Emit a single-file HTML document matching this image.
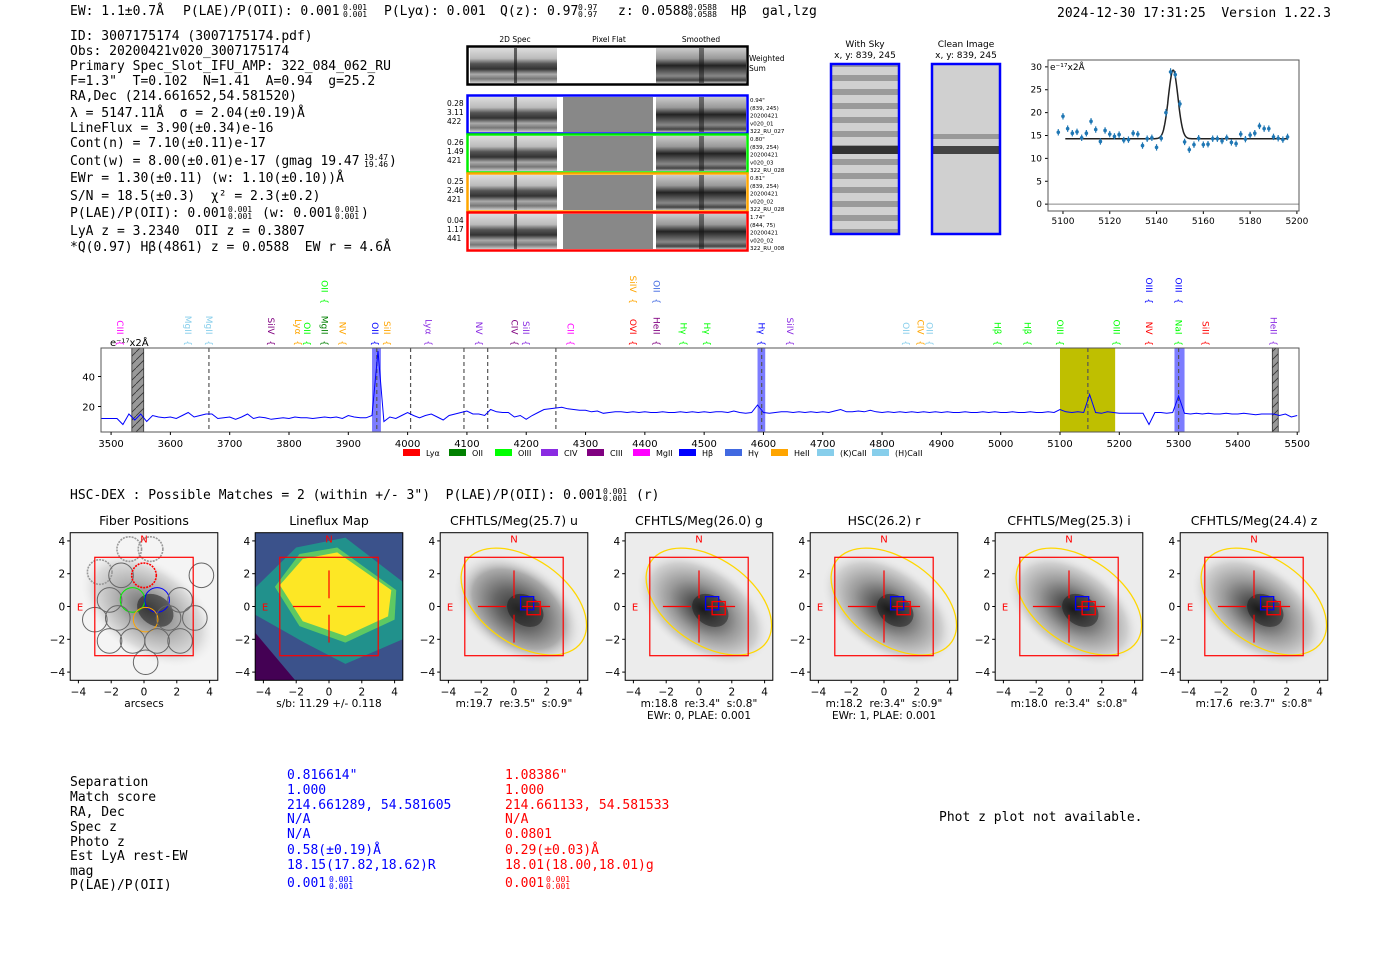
<!DOCTYPE html>
<html><head><meta charset="utf-8"><style>
html,body{margin:0;padding:0;background:#fff;}
svg{display:block;}
.m{font-family:"DejaVu Sans Mono","Liberation Mono",monospace;font-size:13px;fill:#000;white-space:pre;}
.m[font-size="8"]{font-size:8px;}
.s{font-family:"DejaVu Sans","Liberation Sans",sans-serif;white-space:pre;}
</style></head><body>
<svg id="root" width="1400" height="953" viewBox="0 0 1400 953" xmlns="http://www.w3.org/2000/svg" xml:space="preserve">
<defs>
<linearGradient id="g2d" x1="0" y1="0" x2="0" y2="1">
<stop offset="0" stop-color="#ddd"/><stop offset="0.3" stop-color="#bbb"/><stop offset="0.45" stop-color="#555"/><stop offset="0.6" stop-color="#333"/><stop offset="0.75" stop-color="#aaa"/><stop offset="0.88" stop-color="#777"/><stop offset="1" stop-color="#ccc"/>
</linearGradient>
<linearGradient id="gsm" x1="0" y1="0" x2="0" y2="1">
<stop offset="0" stop-color="#ccc"/><stop offset="0.3" stop-color="#999"/><stop offset="0.5" stop-color="#222"/><stop offset="0.65" stop-color="#555"/><stop offset="0.8" stop-color="#888"/><stop offset="0.92" stop-color="#444"/><stop offset="1" stop-color="#bbb"/>
</linearGradient>
<pattern id="sky" width="10" height="14" patternUnits="userSpaceOnUse">
<rect width="10" height="14" fill="#d0d0d0"/><rect y="5" width="10" height="6" fill="#9a9a9a"/>
</pattern>
<pattern id="hatch" width="8" height="8" patternUnits="userSpaceOnUse">
<rect width="8" height="8" fill="#999"/><path d="M0 8 L8 0" stroke="#333" stroke-width="0.8"/>
</pattern>
<radialGradient id="gal" cx="0.5" cy="0.5" r="0.5">
<stop offset="0" stop-color="#222"/><stop offset="0.2" stop-color="#555"/><stop offset="0.5" stop-color="#999"/><stop offset="0.8" stop-color="#cfcfcf"/><stop offset="1" stop-color="#ececec" stop-opacity="0"/>
</radialGradient>
<radialGradient id="galu" cx="0.5" cy="0.5" r="0.5">
<stop offset="0" stop-color="#333"/><stop offset="0.35" stop-color="#666"/><stop offset="0.7" stop-color="#aaa"/><stop offset="1" stop-color="#eee" stop-opacity="0"/>
</radialGradient>
</defs>

<g>
<text class="m" x="70" y="15">EW: 1.1±0.7Å</text>
<text class="m" x="183" y="15">P(LAE)/P(OII): 0.001</text>
<text class="m" x="343" y="10" font-size="8">0.001</text><text class="m" x="343" y="17" font-size="8">0.001</text>
<text class="m" x="384" y="15">P(Lyα): 0.001</text>
<text class="m" x="500" y="15">Q(z): 0.97</text>
<text class="m" x="578" y="10" font-size="8">0.97</text><text class="m" x="578" y="17" font-size="8">0.97</text>
<text class="m" x="618" y="15">z: 0.0588</text>
<text class="m" x="688" y="10" font-size="8">0.0588</text><text class="m" x="688" y="17" font-size="8">0.0588</text>
<text class="m" x="731" y="15">Hβ</text>
<text class="m" x="762" y="15">gal,lzg</text>
<text class="m" x="1057" y="17">2024-12-30 17:31:25  Version 1.22.3</text>
</g>

<g>
<text class="m" x="70" y="40">ID: 3007175174 (3007175174.pdf)</text>
<text class="m" x="70" y="55">Obs: 20200421v020_3007175174</text>
<text class="m" x="70" y="70">Primary Spec_Slot_IFU_AMP: 322_084_062_RU</text>
<text class="m" x="70" y="85">F=1.3"  T=0.102  N=1.41  A=0.94  g=25.2</text>
<text class="m" x="70" y="100">RA,Dec (214.661652,54.581520)</text>
<text class="m" x="70" y="117">λ = 5147.11Å  σ = 2.04(±0.19)Å</text>
<text class="m" x="70" y="132">LineFlux = 3.90(±0.34)e-16</text>
<text class="m" x="70" y="147">Cont(n) = 7.10(±0.11)e-17</text>
<text class="m" x="70" y="165">Cont(w) = 8.00(±0.01)e-17 (gmag 19.47</text>
<text class="m" x="364" y="160" font-size="8">19.47</text><text class="m" x="364" y="167" font-size="8">19.46</text><text class="m" x="389" y="165">)</text>
<text class="m" x="70" y="182">EWr = 1.30(±0.11) (w: 1.10(±0.10))Å</text>
<text class="m" x="70" y="200">S/N = 18.5(±0.3)  χ² = 2.3(±0.2)</text>
<text class="m" x="70" y="217">P(LAE)/P(OII): 0.001</text>
<text class="m" x="228" y="212" font-size="8">0.001</text><text class="m" x="228" y="219" font-size="8">0.001</text>
<text class="m" x="262" y="217">(w: 0.001</text>
<text class="m" x="335" y="212" font-size="8">0.001</text><text class="m" x="335" y="219" font-size="8">0.001</text><text class="m" x="361" y="217">)</text>
<text class="m" x="70" y="235">LyA z = 3.2340  OII z = 0.3807</text>
<text class="m" x="70" y="251">*Q(0.97) Hβ(4861) z = 0.0588  EW r = 4.6Å</text>
</g>

<g id="cutouts"></g>
<g id="fitplot"></g>
<g id="spec"></g>

<text class="m" x="70" y="499">HSC-DEX : Possible Matches = 2 (within +/- 3")  P(LAE)/P(OII): 0.001</text>
<text class="m" x="603" y="494" font-size="8">0.001</text><text class="m" x="603" y="501" font-size="8">0.001</text>
<text class="m" x="636" y="499">(r)</text>

<g id="panels"></g>

<g>
<text class="m" x="70" y="786">Separation</text>
<text class="m" x="70" y="801">Match score</text>
<text class="m" x="70" y="816">RA, Dec</text>
<text class="m" x="70" y="831">Spec z</text>
<text class="m" x="70" y="846">Photo z</text>
<text class="m" x="70" y="860">Est LyA rest-EW</text>
<text class="m" x="70" y="875">mag</text>
<text class="m" x="70" y="889">P(LAE)/P(OII)</text>
<text class="m" x="287" y="779" style="fill:#00f">0.816614"</text>
<text class="m" x="287" y="794" style="fill:#00f">1.000</text>
<text class="m" x="287" y="809" style="fill:#00f">214.661289, 54.581605</text>
<text class="m" x="287" y="823" style="fill:#00f">N/A</text>
<text class="m" x="287" y="838" style="fill:#00f">N/A</text>
<text class="m" x="287" y="854" style="fill:#00f">0.58(±0.19)Å</text>
<text class="m" x="287" y="869" style="fill:#00f">18.15(17.82,18.62)R</text>
<text class="m" x="287" y="887" style="fill:#00f">0.001</text>
<text class="m" x="329" y="882" font-size="8" style="fill:#00f">0.001</text><text class="m" x="329" y="889" font-size="8" style="fill:#00f">0.001</text>
<text class="m" x="505" y="779" style="fill:#f00">1.08386"</text>
<text class="m" x="505" y="794" style="fill:#f00">1.000</text>
<text class="m" x="505" y="809" style="fill:#f00">214.661133, 54.581533</text>
<text class="m" x="505" y="823" style="fill:#f00">N/A</text>
<text class="m" x="505" y="838" style="fill:#f00">0.0801</text>
<text class="m" x="505" y="854" style="fill:#f00">0.29(±0.03)Å</text>
<text class="m" x="505" y="869" style="fill:#f00">18.01(18.00,18.01)g</text>
<text class="m" x="505" y="887" style="fill:#f00">0.001</text>
<text class="m" x="546" y="882" font-size="8" style="fill:#f00">0.001</text><text class="m" x="546" y="889" font-size="8" style="fill:#f00">0.001</text>
<text class="m" x="939" y="821">Phot z plot not available.</text>
</g>
</svg>

<script>
// ===== line-fit data =====
const fitWave = [5098,5100,5102,5104,5106,5108,5110,5112,5114,5116,5118,5120,5122,5124,5126,5128,5130,5132,5134,5136,5138,5140,5142,5144,5146,5148,5150,5152,5154,5156,5158,5160,5162,5164,5166,5168,5170,5172,5174,5176,5178,5180,5182,5184,5186,5188,5190,5192,5194,5196];
const fitFlux = [15.7,19.2,16.5,15.5,15.8,14.5,15.5,18.1,16.3,13.7,16.1,15.3,14.8,15.2,14.0,14.1,15.5,15.3,12.8,14.3,14.5,12.4,14.4,20.0,28.9,28.3,21.9,13.6,11.9,13.0,14.4,13.0,13.1,14.3,14.3,13.8,14.5,13.5,13.2,15.3,14.2,15.1,15.5,17.1,16.5,16.5,14.7,14.4,14.1,14.7];
const fitErr = [0.7,0.7,0.7,0.7,0.7,0.7,0.7,0.7,0.7,0.7,0.7,0.7,0.7,0.7,0.7,0.7,0.7,0.7,0.7,0.7,0.7,0.7,0.7,0.8,0.8,0.8,0.8,0.7,0.7,0.7,0.7,0.7,0.7,0.7,0.7,0.7,0.7,0.7,0.7,0.7,0.7,0.7,0.7,0.7,0.7,0.7,0.7,0.7,0.7,0.7];
const fitModel = {cont:14.3, amp:15.0, mu:5147.11, sigma:2.04, x0:5101, x1:5196};
const fitXTicks = [5100,5120,5140,5160,5180,5200];
const fitYTicks = [0,5,10,15,20,25,30];

// ===== full spectrum data =====
const specStart = 3480, specStep = 10;
const specFlux = [
12,12,12,12,8,15,11,15,10,14,
13,12.5,13,12,14,16,13,14,15,15,
12,12.5,13,11.5,13,15,12,13,12.5,11.5,
12,12.5,12,13,12.5,12.5,12,12.5,13,12.5,
13,12,14,13,12.5,12.5,14,57,10,13,
12,14,16,14,12.5,14,15,13,11,14,
15,16,17,15,15,14,18,16.5,16,16,
13,14,11.5,14,16,18,18.5,19,19.5,18.5,
18,17.5,17.5,16.5,17,15.5,16,16.5,16.5,16,
16.5,16,16.5,16,16,16.5,16,16,16.5,16,
16.5,16,16.5,16,16.5,16.5,16,17,16,15.5,
16,21,16,15.5,16,16.5,16.5,16,16.5,16,
16.5,16,16.5,16,17,18,16.5,16.5,17,16.5,
17.5,16.5,16,16.5,16,16.5,16,16.5,16,16.5,
16,16.5,16,16.5,16,16,16.5,16,16,16.5,
16,16.5,16,16,16.5,16,16,16.5,16,16,
16.5,16,18,16.5,16,16.5,16,28,16,15.5,
16.5,16,15.5,15.5,15.5,15.5,15.5,8,16,16,
15.5,16,27,15.5,15,15.5,15,15.5,15,15,
15.5,15,15,15.5,15,14.5,15,15,15,14,
15,13,14];
const specXTicks = [3500,3600,3700,3800,3900,4000,4100,4200,4300,4400,4500,4600,4700,4800,4900,5000,5100,5200,5300,5400,5500];
const specYTicks = [20,40];
const bandWave = [[3940,3955,'#4444ff'],[4590,4603,'#4444ff'],[5293,5310,'#4444ff'],[5100,5193,'#bfbf00']];
const hatchWave = [[3535,3555],[5458,5468]];
const dashWave = [3665,3948,4005,4095,4135,4250,4597,5147,5300];
const lineWave = [3515,3630,3665,3770,3815,3830,3860,3890,3945,3965,4035,4120,4180,4200,4275,4380,4420,4465,4505,4597,4645,4840,4865,4880,4995,5045,5100,5195,5250,5300,5345,5460,3860,4380,4420,5250,5300];
const lineName = ['CIII','MgII','MgII','SiIV','Lyα','OII','MgII','NV','OII','SiII','Lyα','NV','CIV','SiII','CII','OVI','HeII','Hγ','Hγ','Hγ','SiIV','OII','CIV','OII','Hβ','Hβ','OIII','OIII','NV','NaI','SiII','HeII','OII','SiIV','OII','OIII','OIII'];
const lineColor = ['#ff00ff','#87ceeb','#87ceeb','#800080','#ffa500','#00ff00','#008000','#ffa500','#0000ff','#ffa500','#8a2be2','#8a2be2','#800080','#8a2be2','#ff00ff','#ff0000','#800080','#00ff00','#00ff00','#0000ff','#8a2be2','#87ceeb','#ffa500','#87ceeb','#00ff00','#00ff00','#00ff00','#00ff00','#ff0000','#00ff00','#ff0000','#8a2be2','#00ff00','#ffa500','#4169e1','#0000ff','#0000ff'];
const lineRow = [0,0,0,0,0,0,0,0,0,0,0,0,0,0,0,0,0,0,0,0,0,0,0,0,0,0,0,0,0,0,0,0,1,1,1,1,1];
const legendNames = ['Lyα','OII','OIII','CIV','CIII','MgII','Hβ','Hγ','HeII','(K)CaII','(H)CaII'];
const legendColors = ['#ff0000','#008000','#00ff00','#8a2be2','#800080','#ff00ff','#0000ff','#4169e1','#ffa500','#87ceeb','#87ceeb'];

const NS='http://www.w3.org/2000/svg';
function mk(tag, parent, attrs){const e=document.createElementNS(NS,tag);for(const k in attrs)e.setAttribute(k,attrs[k]);parent.appendChild(e);return e;}
function txt(parent,x,y,s,attrs){const e=mk('text',parent,Object.assign({x:x,y:y},attrs||{}));e.textContent=s;return e;}

// ===== cutouts =====
(function(){
const g=document.getElementById('cutouts');
txt(g,515,42,'2D Spec',{class:'s','font-size':'7.5','text-anchor':'middle'});
txt(g,609,42,'Pixel Flat',{class:'s','font-size':'7.5','text-anchor':'middle'});
txt(g,701,42,'Smoothed',{class:'s','font-size':'7.5','text-anchor':'middle'});
const rows=[[46,'#000',null],[95,'#0000ff',['0.28','3.11','422'],['0.94"','(839, 245)','20200421','v020_01','322_RU_027']],
[134,'#00ee00',['0.26','1.49','421'],['0.80"','(839, 254)','20200421','v020_03','322_RU_028']],
[173,'#ffa500',['0.25','2.46','421'],['0.81"','(839, 254)','20200421','v020_02','322_RU_028']],
[212,'#ff0000',['0.04','1.17','441'],['1.74"','(844, 75)','20200421','v020_02','322_RU_008']]];
rows.forEach((r,i)=>{
 const y=r[0],h=38;
 const cell=mk('g',g,{});
 
 
 mk('rect',cell,{x:470,y:y+2,width:87,height:h-3,fill:'url(#g2d)'});
 mk('rect',cell,{x:514,y:y+2,width:3,height:h-3,fill:'#111',opacity:0.6});
 mk('rect',cell,{x:563,y:y+2,width:90,height:h-3,fill:i==0?'#fff':'#888'});
 mk('rect',cell,{x:656,y:y+2,width:90,height:h-3,fill:'url(#gsm)'});
 mk('rect',cell,{x:699,y:y+2,width:5,height:h-3,fill:'#111',opacity:0.5});
 mk('rect',cell,{x:467.5,y:y+0.5,width:280,height:h,fill:'none',stroke:r[1],'stroke-width':2.5});
 if(r[2]) r[2].forEach((s,k)=>txt(cell,447,y+11+k*9,s,{class:'s','font-size':'7.5'}));
 if(r[3]) r[3].forEach((s,k)=>txt(cell,750,y+7+k*7.8,s,{class:'s','font-size':'5.5'}));
});
txt(g,749,61,'Weighted',{class:'s','font-size':'7.5'});
txt(g,749,71,'Sum',{class:'s','font-size':'7.5'});
txt(g,865,47,'With Sky',{class:'s','font-size':'9','text-anchor':'middle'});
txt(g,865,58,'x, y: 839, 245',{class:'s','font-size':'9','text-anchor':'middle'});
txt(g,966,47,'Clean Image',{class:'s','font-size':'9','text-anchor':'middle'});
txt(g,966,58,'x, y: 839, 245',{class:'s','font-size':'9','text-anchor':'middle'});
mk('rect',g,{x:832,y:65,width:67,height:168,fill:'url(#sky)'});
mk('rect',g,{x:832,y:146,width:67,height:8,fill:'#333'});
mk('rect',g,{x:933,y:65,width:67,height:168,fill:'#d0d0d0'});
mk('rect',g,{x:933,y:146,width:67,height:8,fill:'#444'});
mk('rect',g,{x:933,y:134,width:67,height:5,fill:'#999'});
mk('rect',g,{x:831,y:64,width:68,height:170,fill:'none',stroke:'#0000ff','stroke-width':2.5});
mk('rect',g,{x:932,y:64,width:68,height:170,fill:'none',stroke:'#0000ff','stroke-width':2.5});
})();

// ===== fit plot =====
(function(){
const g=document.getElementById('fitplot');
const L=1048,R=1299,T=60,B=211, x0=5093.6,x1=5200.9,y0=-1.5,y1=31.5;
const X=v=>L+(v-x0)/(x1-x0)*(R-L), Y=v=>B-(v-y0)/(y1-y0)*(B-T);
mk('line',g,{x1:L,x2:R,y1:Y(0),y2:Y(0),stroke:'#888','stroke-width':1});
fitXTicks.forEach(v=>{mk('line',g,{x1:X(v),x2:X(v),y1:B,y2:B+3,stroke:'#000'});txt(g,X(v),B+13,String(v),{class:'s','font-size':'9','text-anchor':'middle'});});
fitYTicks.forEach(v=>{mk('line',g,{x1:L-3,x2:L,y1:Y(v),y2:Y(v),stroke:'#000'});txt(g,L-6,Y(v)+3,String(v),{class:'s','font-size':'9','text-anchor':'end'});});
let d='';
for(let w=fitModel.x0; w<=fitModel.x1; w+=0.25){const f=fitModel.cont+fitModel.amp*Math.exp(-0.5*Math.pow((w-fitModel.mu)/fitModel.sigma,2));d+=(d?'L':'M')+X(w).toFixed(1)+' '+Y(f).toFixed(1);}
const mp=mk('path',g,{d:d,fill:'none',stroke:'#222','stroke-width':1.5});


fitWave.forEach((w,i)=>{
 const pt=mk('g',g,{});
 
 
 mk('line',pt,{x1:X(w),x2:X(w),y1:Y(fitFlux[i]-fitErr[i]),y2:Y(fitFlux[i]+fitErr[i]),stroke:'#1f77b4','stroke-width':1.2});
 mk('circle',pt,{cx:X(w),cy:Y(fitFlux[i]),r:1.8,fill:'#1f77b4'});
});
mk('rect',g,{x:L,y:T,width:R-L,height:B-T,fill:'none',stroke:'#555','stroke-width':1});
txt(g,L+2,T+10,'e⁻¹⁷x2Å',{class:'s','font-size':'9'});
})();

// ===== full spectrum =====
(function(){
const g=document.getElementById('spec');
const L=101,R=1299,T=348,B=432,x0=3483,x1=5503,y0=3,y1=59;
const X=v=>L+(v-x0)/(x1-x0)*(R-L), Y=v=>B-(v-y0)/(y1-y0)*(B-T);
bandWave.forEach(b=>{const r=mk('rect',g,{x:X(b[0]),y:T,width:X(b[1])-X(b[0]),height:B-T,fill:b[2],opacity:b[2]=='#bfbf00'?1:0.7});
 
 });
hatchWave.forEach(b=>{const r=mk('rect',g,{x:X(b[0]),y:T,width:X(b[1])-X(b[0]),height:B-T,fill:'url(#hatch)',stroke:'#333','stroke-width':0.8});
 
 });
dashWave.forEach(w=>mk('line',g,{x1:X(w),x2:X(w),y1:T,y2:B,stroke:'#555','stroke-dasharray':'4,3','stroke-width':1.2}));
let d='';
specFlux.forEach((f,i)=>{const w=specStart+i*specStep;d+=(i?'L':'M')+X(Math.max(w,x0)).toFixed(1)+' '+Y(f).toFixed(1);});
const p=mk('path',g,{d:d,fill:'none',stroke:'#0000ff','stroke-width':1});


mk('rect',g,{x:L,y:T,width:R-L,height:B-T,fill:'none',stroke:'#555','stroke-width':1});
specXTicks.forEach(v=>{mk('line',g,{x1:X(v),x2:X(v),y1:B,y2:B+3,stroke:'#000'});txt(g,X(v),B+15,String(v),{class:'s','font-size':'10','text-anchor':'middle'});});
specYTicks.forEach(v=>{mk('line',g,{x1:L-3,x2:L,y1:Y(v),y2:Y(v),stroke:'#000'});txt(g,L-6,Y(v)+4,String(v),{class:'s','font-size':'10','text-anchor':'end'});});
txt(g,110,346,'e⁻¹⁷x2Å',{class:'s','font-size':'10'});
lineWave.forEach((w,i)=>{
 const yb=lineRow[i]?304:346;
 const t=txt(g,0,0,lineName[i]+'  {',{class:'s','font-size':'9',fill:lineColor[i],'text-anchor':'end',transform:'translate('+(X(w)-3)+','+yb+') rotate(90)'});
 
 
});
let lx=403;
legendNames.forEach((n,i)=>{
 const e=mk('g',g,{});
 
 
 mk('rect',e,{x:lx,y:449,width:17,height:7,fill:legendColors[i]});
 txt(e,lx+23,456,n,{class:'s','font-size':'8'});
 lx+= n.length>5?55:46;
});
})();

// ===== imaging panels =====
(function(){
const g=document.getElementById('panels');
const centers=[144,329,514,699,884,1069,1254];
const titles=['Fiber Positions','Lineflux Map','CFHTLS/Meg(25.7) u','CFHTLS/Meg(26.0) g','HSC(26.2) r','CFHTLS/Meg(25.3) i','CFHTLS/Meg(24.4) z'];
const sub1=['arcsecs','s/b: 11.29 +/- 0.118','m:19.7  re:3.5"  s:0.9"','m:18.8  re:3.4"  s:0.8"','m:18.2  re:3.4"  s:0.9"','m:18.0  re:3.4"  s:0.8"','m:17.6  re:3.7"  s:0.8"'];
const sub2=['','','','EWr: 0, PLAE: 0.001','EWr: 1, PLAE: 0.001','',''];
const S=16.4, cy=606.5;
centers.forEach((cx,i)=>{
 const p=mk('g',g,{});
 
 
 const L=cx-4.5*S,T=cy-4.5*S,W=9*S;
 const clip=mk('clipPath',p,{id:'cp'+i});mk('rect',clip,{x:L,y:T,width:W,height:W});
 const im=mk('g',p,{'clip-path':'url(#cp'+i+')'});
 if(i==1){
  mk('rect',im,{x:L,y:T,width:W,height:W,fill:'#3b528b'});
  mk('polygon',im,{points:[[L,T+W],[L+40,T+W],[L,T+100]].map(a=>a.join(',')).join(' '),fill:'#440154'});
  mk('polygon',im,{points:[[L,T+55],[cx-2*S,cy-3.6*S],[cx+1*S,cy-4.2*S],[cx+4.5*S,cy-1.5*S],[cx+4.5*S,cy+2*S],[cx+1*S,cy+3.5*S],[cx-1.5*S,cy+2.2*S],[L,cy+0.5*S]].map(a=>a.join(',')).join(' '),fill:'#21918c'});
  mk('polygon',im,{points:[[cx-3.3*S,cy-1.2*S],[cx-1.8*S,cy-3.2*S],[cx+0.5*S,cy-3.6*S],[cx+4.1*S,cy-1*S],[cx+4*S,cy+0.8*S],[cx+1*S,cy+2.2*S],[cx-1.8*S,cy+1.2*S]].map(a=>a.join(',')).join(' '),fill:'#5ec962'});
  mk('polygon',im,{points:[[cx-3*S,cy-1.3*S],[cx-1.6*S,cy-2.9*S],[cx+0.5*S,cy-3.3*S],[cx+3.8*S,cy-1*S],[cx+3.6*S,cy+0.6*S],[cx+1*S,cy+1.8*S],[cx-1.6*S,cy+0.9*S]].map(a=>a.join(',')).join(' '),fill:'#fde725'});
 } else {
  mk('rect',im,{x:L,y:T,width:W,height:W,fill:i==0?'#f4f4f4':'#ececec'});
  const rx=i==2?4.4*S:4.6*S, ry=i==2?2.9*S:2.8*S;
  mk('ellipse',im,{cx:cx+0.3*S,cy:cy,rx:rx,ry:ry,fill:i==2?'url(#galu)':'url(#gal)',transform:'rotate(35 '+cx+' '+cy+')',opacity:i==0?0.7:1});
  mk('ellipse',im,{cx:cx+0.7*S,cy:cy-0.2*S,rx:1.2*S,ry:0.9*S,fill:'#111',opacity:i==0?0.5:0.45,transform:'rotate(35 '+cx+' '+cy+')'});
 }
 if(i==0){
  const fib=[[-0.9,3.5,'#999',1],[0.4,3.5,'#999',1],[-2.7,2.1,'#999',1],[-1.4,1.9,'#666',0],[0,1.9,'#ff0000',1],[3.5,1.9,'#666',0],[-2.1,0.4,'#666',0],[-0.7,0.4,'#00ee00',0],[0.8,0.4,'#0000ff',0],[2.2,0.4,'#666',0],[-3,-0.8,'#666',0],[-1.6,-0.7,'#666',0],[0.1,-0.8,'#ffa500',0],[1.5,-0.7,'#666',0],[3.1,-0.7,'#666',0],[-2.1,-2.1,'#666',0],[-0.7,-2.1,'#666',0],[0.8,-2.1,'#666',0],[2.2,-2.1,'#666',0],[0.1,-3.4,'#666',0]];
  fib.forEach(f=>mk('circle',im,{cx:cx+f[0]*S,cy:cy-f[1]*S,r:0.75*S,fill:'none',stroke:f[2],'stroke-width':f[3]?1.6:1,'stroke-dasharray':f[3]?'2,1':'none'}));
 }
 mk('rect',p,{x:cx-3*S,y:cy-3*S,width:6*S,height:6*S,fill:'none',stroke:'#ff0000','stroke-width':1.2});
 if(i>=1){
  [[-2.2,0,-0.5,0],[0.5,0,2.2,0],[0,-2.2,0,-0.5],[0,0.5,0,2.2]].forEach(l=>mk('line',p,{x1:cx+l[0]*S,y1:cy+l[1]*S,x2:cx+l[2]*S,y2:cy+l[3]*S,stroke:'#ff0000','stroke-width':1.2}));
 }
 if(i>=2){
  mk('ellipse',im,{cx:cx+0.6*S,cy:cy-0.3*S,rx:4.3*S,ry:2.6*S,fill:'none',stroke:'#ffd700','stroke-width':1.3,transform:'rotate(35 '+(cx+0.6*S)+' '+(cy-0.3*S)+')'});
  mk('rect',p,{x:cx+0.4*S,y:cy-0.6*S,width:0.8*S,height:0.8*S,fill:'none',stroke:'#0000ff','stroke-width':1.3});
  mk('rect',p,{x:cx+0.8*S,y:cy-0.3*S,width:0.8*S,height:0.8*S,fill:'none',stroke:'#ff0000','stroke-width':1.3});
 }
 txt(p,cx,cy-3.9*S,'N',{class:'s','font-size':'10',fill:'#ff0000','text-anchor':'middle'});
 txt(p,cx-3.9*S,cy+4,'E',{class:'s','font-size':'10',fill:'#ff0000','text-anchor':'middle'});
 mk('rect',p,{x:L,y:T,width:W,height:W,fill:'none',stroke:'#000','stroke-width':1});
 [-4,-2,0,2,4].forEach(v=>{
  const lab=v<0?'−'+(-v):String(v);
  mk('line',p,{x1:cx+v*S,x2:cx+v*S,y1:T+W,y2:T+W+3,stroke:'#000'});
  txt(p,cx+v*S,T+W+15,lab,{class:'s','font-size':'10.5','text-anchor':'middle'});
  mk('line',p,{x1:L-3,x2:L,y1:cy-v*S,y2:cy-v*S,stroke:'#000'});
  txt(p,L-5,cy-v*S+4,lab,{class:'s','font-size':'10.5','text-anchor':'end'});
 });
 txt(p,cx,525,titles[i],{class:'s','font-size':'12.5','text-anchor':'middle'});
 txt(p,cx,707,sub1[i],{class:'s','font-size':'10.5','text-anchor':'middle'});
 if(sub2[i]) txt(p,cx,719,sub2[i],{class:'s','font-size':'10.5','text-anchor':'middle'});
});
})();
</script>
</body></html>
